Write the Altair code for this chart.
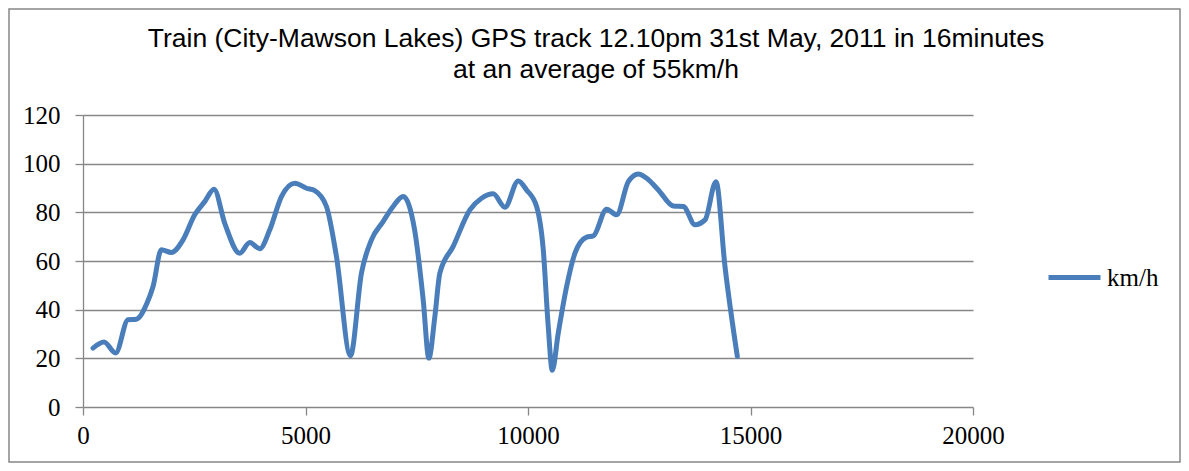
import altair as alt
import pandas as pd

# Distance along track (m) and speed (km/h)
distance_m = [225, 472, 734, 1012, 1199, 1439, 1574, 1761, 1986, 2248, 2510, 2735,
              2945, 3185, 3522, 3747, 3972, 4197, 4459, 4759, 5021, 5208, 5471,
              5695, 6010, 6257, 6482, 6744, 6969, 7194, 7450, 7645, 7772, 7907,
              8019, 8319, 8694, 8956, 9218, 9481, 9780, 9968, 10193, 10343, 10455,
              10545, 10680, 10868, 11055, 11318, 11468, 11767, 11992, 12254, 12479,
              12667, 12929, 13266, 13491, 13753, 13978, 14225, 14427, 14704]
speed_kmh = [24.2, 26.7, 22.2, 35.9, 36.1, 42.7, 49.5, 64.6, 63.5, 68.7, 79.0, 84.4,
             89.5, 75.5, 63.2, 67.6, 65.0, 72.8, 86.5, 92.0, 89.9, 88.9, 82.4,
             61.9, 21.1, 55.0, 68.7, 76.2, 82.4, 86.5, 73.0, 44.0, 20.1, 37.2,
             55.0, 66.0, 81.0, 85.8, 87.6, 82.1, 92.9, 89.2, 82.4, 64.6, 33.1,
             15.1, 30.4, 49.5, 63.2, 69.8, 70.3, 81.3, 79.0, 92.6, 95.8,
             94.0, 89.2, 82.6, 82.4, 74.9, 76.9, 92.6, 57.7, 20.8]
series_name = ["km/h"]
x_ticks = [0, 5000, 10000, 15000, 20000]
y_ticks = [0, 20, 40, 60, 80, 100, 120]
title_text = ["Train (City-Mawson Lakes) GPS track 12.10pm 31st May, 2011 in 16minutes\n"
              "at an average of 55km/h"]

df = pd.DataFrame({"distance": distance_m, "speed": speed_kmh,
                   "series": series_name * len(distance_m)})

W, H = 890, 292
GRAY = "#878787"
BLUE = "#4A7EBB"

line = alt.Chart(df).mark_line(
    interpolate="monotone", strokeWidth=5, strokeCap="round", strokeJoin="round"
).encode(
    x=alt.X("distance:Q",
            scale=alt.Scale(domain=[0, 20000], nice=False, zero=True),
            axis=alt.Axis(values=x_ticks, title=None, grid=False, format="d",
                          domain=False, ticks=True, tickSize=8, tickColor=GRAY,
                          tickWidth=1.3, labelPadding=8, labelFlush=False)),
    y=alt.Y("speed:Q",
            scale=alt.Scale(domain=[0, 120], nice=False),
            axis=alt.Axis(values=y_ticks, title=None, grid=True, gridColor=GRAY,
                          gridWidth=1.3, domain=True, domainColor=GRAY,
                          domainWidth=1.3, tickSize=8, tickColor=GRAY,
                          tickWidth=1.3, labelPadding=15)),
    color=alt.Color("series:N",
                    scale=alt.Scale(domain=series_name, range=[BLUE]),
                    legend=alt.Legend(title=None, orient="none", legendX=963,
                                      legendY=134, symbolType="stroke",
                                      symbolSize=2704, symbolStrokeWidth=5,
                                      labelFont="Liberation Serif",
                                      labelFontSize=25, labelColor="black",
                                      labelOffset=4)),
)

border_df = pd.DataFrame({"k": [0]})
border = alt.Chart(border_df).mark_rect(
    fill=None, stroke=GRAY, strokeWidth=1.5
).encode(
    x=alt.value(-74), x2=alt.value(W + 207),
    y=alt.value(-106), y2=alt.value(H + 55),
)

title_df = pd.DataFrame({"t": title_text})
title = alt.Chart(title_df).mark_text(
    font="Liberation Sans", fontSize=26.5, color="black", align="center",
    baseline="alphabetic", lineBreak="\n", lineHeight=31
).encode(
    x=alt.value(513), y=alt.value(-68), text="t:N"
)

chart = alt.layer(border, title, line).properties(
    width=W, height=H,
    autosize=alt.AutoSizeParams(type="none"),
    padding={"left": 75, "top": 107, "right": 208, "bottom": 56},
).configure_view(stroke=None).configure_axis(
    labelFont="Liberation Serif", labelFontSize=25, labelColor="black"
)

chart.save("out.html", embed_options={"renderer": "svg", "actions": False})
